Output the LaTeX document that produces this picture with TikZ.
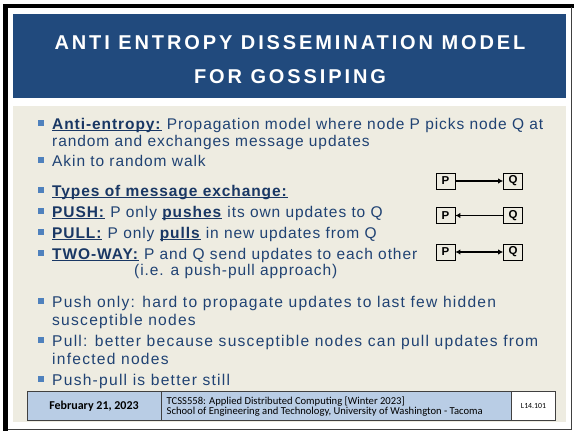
\documentclass[tikz,border=0pt]{standalone}
\usepackage{fontspec}
\usetikzlibrary{arrows.meta}
\setmainfont{Liberation Sans}
\newfontfamily\titlefont[LetterSpace=14.5]{Liberation Sans}
\newfontfamily\bodyfont[LetterSpace=6]{Liberation Sans}
\newfontfamily\bodyfontb[LetterSpace=8]{Liberation Sans}
\newfontfamily\footfont{Carlito}
\definecolor{titleblue}{RGB}{33,74,125}
\definecolor{bgtan}{RGB}{238,236,225}
\definecolor{txtblue}{RGB}{32,66,115}
\definecolor{ulblue}{RGB}{25,55,100}
\definecolor{accblue}{RGB}{79,129,189}
\definecolor{footblue}{RGB}{185,205,229}
\newsavebox\myulbox
\newcommand\myul[1]{{\color{ulblue}\sbox\myulbox{\textbf{#1}}\rlap{\rule[-2.2pt]{\wd\myulbox}{1pt}}\usebox\myulbox}}
\tikzset{
  txt/.style={anchor=base west, inner sep=0pt, text=txtblue, font=\bodyfont\fontsize{15.5}{18}\selectfont},
  txtsm/.style={anchor=base west, inner sep=0pt, text=txtblue, font=\bodyfontb\fontsize{15.6}{18}\selectfont},
  bul/.style={fill=accblue, minimum size=5.8pt, inner sep=0pt, draw=none},
  pq/.style={draw=black, line width=0.8pt, fill=bgtan, minimum width=19pt, minimum height=16pt, inner sep=0pt, font=\fontsize{11.5}{11.5}\selectfont\bfseries},
  arr/.style={line width=1.6pt, -{Latex[length=5pt,width=5.5pt]}},
  dblarr/.style={line width=1.6pt, {Latex[length=5pt,width=5.5pt]}-{Latex[length=5pt,width=5.5pt]}},
  ttl/.style={text=white, inner sep=0pt, anchor=base, font=\titlefont\bfseries\fontsize{20}{22}\selectfont},
  cell/.style={draw=black!75, line width=0.8pt},
}
\begin{document}
\begin{tikzpicture}[x=1pt,y=-1pt]
\useasboundingbox (0,0) rectangle (574,431);
\fill[white] (0,0) rectangle (574,431);
% frame
\fill[black] (3,3.5) rectangle (574,7.5);
\fill[black] (3,3.5) rectangle (8,431);
\draw[black!75, line width=1pt] (571.7,7) -- (571.7,429.5) -- (8,429.5);
% title
\fill[titleblue] (13,13.5) rectangle (565.5,97.5);
\node[ttl] (t1) at (290,49) {ANTI ENTROPY DISSEMINATION MODEL};
\node[ttl] (t2) at (290,83.5) {FOR GOSSIPING};
% content background
\fill[bgtan] (13,105.5) rectangle (566,422);
% bullets
\foreach \n/\y in {b1/129, b2/166, b3/196, b4/217, b5/238, b6/259, b7/307, b8/346, b9/385}
  \node[bul] (\n) at (41.2,\y-6.2) {};
% top text
\node[txt] (l1) at (52,129) {\myul{Anti-entropy:} Propagation model where node P picks node Q at};
\node[txt] (l2) at (52,146.5) {random and exchanges message updates};
\node[txt] (l3) at (52,166) {Akin to random walk};
\node[txt] (l4) at (52,196) {\myul{Types of message exchange:}};
\node[txt] (l5) at (52,217) {\myul{PUSH:} P only \myul{pushes} its own updates to Q};
\node[txt] (l6) at (52,238) {\myul{PULL:} P only \myul{pulls} in new updates from Q};
\node[txt] (l7) at (52,259) {\myul{TWO-WAY:} P and Q send updates to each other};
\node[txt] (l8) at (134,275) {(i.e. a push-pull approach)};
% bottom text
\node[txtsm] (m1) at (52,307) {Push only: hard to propagate updates to last few hidden};
\node[txtsm] (m2) at (52,325) {susceptible nodes};
\node[txtsm] (m3) at (52,346) {Pull: better because susceptible nodes can pull updates from};
\node[txtsm] (m4) at (52,364) {infected nodes};
\node[txtsm] (m5) at (52,385) {Push-pull is better still};
% P/Q diagram
\node[pq] (p1) at (445.5,181) {P};
\node[pq] (q1) at (513,181) {Q};
\node[pq] (p2) at (445.5,215.5) {P};
\node[pq] (q2) at (513,215.5) {Q};
\node[pq] (p3) at (445.5,252) {P};
\node[pq] (q3) at (513,252) {Q};
\draw[arr] (p1) -- (q1);
\draw[arr] (q2) -- (p2);
\draw[dblarr] (p3) -- (q3);
% footer
\fill[footblue] (27,391.5) rectangle (511,420);
\fill[white] (511,391.5) rectangle (555.5,420);
\draw[cell] (27,391.5) rectangle (555.5,420);
\draw[cell] (161.5,391.5) -- (161.5,420);
\draw[cell] (511,391.5) -- (511,420);
\node[inner sep=0pt, anchor=base, font=\footfont\bfseries\fontsize{12}{14}\selectfont] (date) at (94,409.5) {February 21, 2023};
\node[inner sep=0pt, anchor=base west, font=\footfont\fontsize{10.6}{12}\selectfont] (c1) at (166.5,404) {TCSS558: Applied Distributed Computing [Winter 2023]};
\node[inner sep=0pt, anchor=base west, font=\footfont\fontsize{10.6}{12}\selectfont] (c2) at (166.5,414.5) {School of Engineering and Technology, University of Washington - Tacoma};
\node[inner sep=0pt, anchor=base, font=\footfont\fontsize{7.8}{9}\selectfont] (pg) at (533.5,408.5) {L14.101};
\end{tikzpicture}
\end{document}
